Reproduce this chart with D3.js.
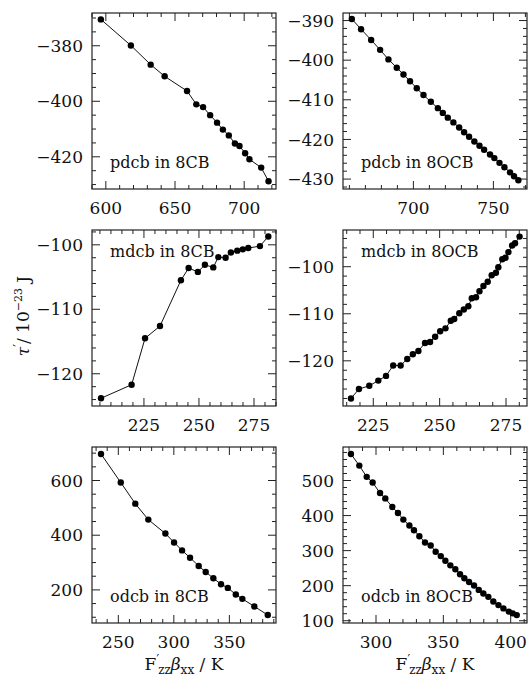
<!DOCTYPE html>
<html>
<head>
<meta charset="utf-8">
<script src="https://cdn.jsdelivr.net/npm/d3@7/dist/d3.min.js"></script>
<style>
  body { margin: 0; background: #fff; }
  svg text { font-family: "DejaVu Serif", serif; fill: #111; }
</style>
</head>
<body>
<div id="chart"></div>
<script>
// ---------------- data ----------------
var panelNames = ["pdcb in 8CB", "pdcb in 8OCB", "mdcb in 8CB", "mdcb in 8OCB", "odcb in 8CB", "odcb in 8OCB"];

var pdcb8cbX = [596.4, 618.1, 632.4, 642.5, 658.7, 665.4, 670.3, 675.4, 680.4, 684.6, 688.9, 693.3, 696.6, 700.7, 703.8, 712.3, 717.6];
var pdcb8cbY = [-370.5, -379.9, -386.8, -391.0, -396.3, -401.1, -402.1, -405.0, -407.7, -410.2, -412.3, -415.2, -416.1, -418.7, -420.9, -423.9, -428.8];

var pdcb8ocbX = [661.5, 667.3, 673.6, 679.2, 684.4, 689.6, 693.8, 697.9, 702.1, 706.3, 710.9, 715.3, 718.4, 721.5, 725.0, 728.6, 731.7, 734.8, 738.1, 741.3, 744.2, 747.9, 750.6, 753.8, 756.9, 760.4, 762.9, 765.6];
var pdcb8ocbY = [-389.6, -392.2, -394.9, -397.4, -399.8, -401.9, -403.6, -405.3, -407.1, -408.8, -410.5, -412.1, -413.3, -414.5, -415.7, -417.0, -418.2, -419.3, -420.5, -421.6, -422.6, -423.8, -424.7, -425.9, -427.0, -428.3, -429.3, -430.3];

var mdcb8cbX = [205.5, 219.4, 225.5, 232.3, 241.8, 245.3, 249.5, 252.7, 256.5, 258.8, 262.1, 264.5, 267.4, 269.9, 272.4, 277.7, 281.5];
var mdcb8cbY = [-123.8, -121.7, -114.5, -112.6, -105.5, -103.6, -104.2, -103.1, -103.5, -101.9, -102.0, -101.2, -100.9, -100.7, -100.5, -100.2, -98.7];

var mdcb8ocbX = [216.6, 219.6, 223.5, 226.9, 229.8, 232.5, 235.3, 237.8, 239.9, 242.0, 244.5, 246.4, 248.3, 250.2, 252.2, 254.2, 255.5, 257.4, 259.1, 260.8, 262.1, 263.7, 265.0, 266.5, 268.1, 269.6, 271.2, 272.1, 273.6, 274.8, 275.9, 277.3, 278.4, 280.1];
var mdcb8ocbY = [-128.0, -126.0, -125.3, -124.2, -123.2, -121.0, -121.0, -119.6, -118.6, -117.9, -116.2, -116.0, -114.9, -113.7, -113.1, -111.5, -111.1, -109.9, -109.1, -108.4, -106.7, -106.5, -105.2, -104.1, -103.2, -101.8, -101.3, -100.1, -98.4, -98.1, -96.9, -95.5, -95.0, -93.6];

var odcb8cbX = [234.4, 252.2, 265.3, 277.0, 292.4, 300.2, 307.4, 314.6, 322.4, 328.7, 335.6, 342.5, 348.6, 355.8, 361.7, 372.5, 384.6];
var odcb8cbY = [697, 592.7, 515.3, 457, 406, 373.5, 344.4, 317.8, 287.3, 265.5, 242.5, 220.7, 207.3, 183.3, 167.3, 139.6, 108];

var odcb8ocbX = [281.4, 287.6, 293.1, 297.5, 303.0, 306.9, 312.1, 316.3, 320.3, 324.8, 328.2, 332.2, 336.4, 340.6, 344.3, 348.1, 351.5, 355.2, 358.9, 362.4, 365.6, 369.1, 372.8, 376.3, 379.7, 383.4, 387.1, 390.9, 394.6, 398.6, 401.5, 404.5];
var odcb8ocbY = [575.7, 542.6, 510.5, 494.4, 464.3, 448.9, 424.5, 407.5, 388.5, 371.5, 358.2, 341.1, 323.3, 314.8, 296.8, 284.4, 271.3, 258.0, 246.7, 232.5, 221.1, 210.6, 200.4, 188.0, 177.7, 168.1, 155.0, 144.5, 135.2, 126.0, 121.0, 116.0];

// axis ranges and tick labels
var xDomains = [[590, 723], [656, 771], [201.4, 285], [213.6, 282.9], [226.3, 392], [275.5, 412.1]];
var yDomains = [[-431.6, -368.2], [-432.5, -388.1], [-125, -97.7], [-129.6, -92.2], [79, 722.5], [93.5, 595.6]];
var xTickLabels = [[600, 650, 700], [700, 750], [225, 250, 275], [225, 250, 275], [250, 300, 350], [300, 350, 400]];
var yTickLabels = [[-380, -400, -420], [-390, -400, -410, -420, -430], [-100, -110, -120], [-100, -110, -120], [200, 400, 600], [100, 200, 300, 400, 500]];
var xMinorStep = [10, 10, 5, 5, 10, 10];
var yMinorStep = [5, 2, 2, 2, 50, 20];

var seriesX = [pdcb8cbX, pdcb8ocbX, mdcb8cbX, mdcb8ocbX, odcb8cbX, odcb8ocbX];
var seriesY = [pdcb8cbY, pdcb8ocbY, mdcb8cbY, mdcb8ocbY, odcb8cbY, odcb8ocbY];

// ---------------- layout ----------------
var width = 532, height = 677;
var colLeft = [92, 343], panelW = 184;
var rowTop = [13, 230, 447], panelH = 176;
// label placement: true = near top, false = near bottom
var labelTop = [false, false, true, true, false, false];

var svg = d3.select("#chart").append("svg")
    .attr("width", width)
    .attr("height", height);

function minorTicks(domain, step) {
  var out = [];
  var start = Math.ceil(domain[0] / step) * step;
  for (var v = start; v <= domain[1] + 1e-9; v += step) out.push(+v.toFixed(6));
  return out;
}

panelNames.forEach(function(name, i) {
  var col = i % 2, row = Math.floor(i / 2);
  var x0 = colLeft[col], y0 = rowTop[row];

  var x = d3.scaleLinear().domain(xDomains[i]).range([0, panelW]);
  var y = d3.scaleLinear().domain(yDomains[i]).range([panelH, 0]);

  var g = svg.append("g").attr("transform", "translate(" + x0 + "," + y0 + ")");

  var xMinor = minorTicks(xDomains[i], xMinorStep[i]);
  var yMinor = minorTicks(yDomains[i], yMinorStep[i]);
  var isMajorX = function(v) { return xTickLabels[i].indexOf(v) >= 0; };
  var isMajorY = function(v) { return yTickLabels[i].indexOf(v) >= 0; };

  // inward ticks on all four sides
  var tickG = g.append("g").attr("stroke", "#222").attr("stroke-width", 1);
  xMinor.forEach(function(v) {
    var len = isMajorX(v) ? 8 : 4;
    tickG.append("line").attr("x1", x(v)).attr("x2", x(v)).attr("y1", panelH).attr("y2", panelH - len);
    tickG.append("line").attr("x1", x(v)).attr("x2", x(v)).attr("y1", 0).attr("y2", len);
  });
  yMinor.forEach(function(v) {
    var len = isMajorY(v) ? 8 : 4;
    tickG.append("line").attr("y1", y(v)).attr("y2", y(v)).attr("x1", 0).attr("x2", len);
    tickG.append("line").attr("y1", y(v)).attr("y2", y(v)).attr("x1", panelW).attr("x2", panelW - len);
  });

  // frame
  g.append("rect")
    .attr("width", panelW).attr("height", panelH)
    .attr("fill", "none").attr("stroke", "#222").attr("stroke-width", 1.2);

  // tick labels
  var fmt = d3.format("d");
  g.selectAll(".xl").data(xTickLabels[i]).enter().append("text")
    .attr("x", function(d) { return x(d); })
    .attr("y", panelH + 25)
    .attr("text-anchor", "middle")
    .style("font-size", "17px")
    .text(fmt);
  g.selectAll(".yl").data(yTickLabels[i]).enter().append("text")
    .attr("x", -9)
    .attr("y", function(d) { return y(d); })
    .attr("dy", "0.36em")
    .attr("text-anchor", "end")
    .style("font-size", "17px")
    .text(fmt);

  // data line and dots
  var pts = seriesX[i].map(function(v, k) { return [v, seriesY[i][k]]; });
  var line = d3.line().x(function(d) { return x(d[0]); }).y(function(d) { return y(d[1]); });
  g.append("path").datum(pts)
    .attr("d", line)
    .attr("fill", "none")
    .attr("stroke", "#111")
    .attr("stroke-width", 1);
  g.selectAll(".dot").data(pts).enter().append("circle")
    .attr("cx", function(d) { return x(d[0]); })
    .attr("cy", function(d) { return y(d[1]); })
    .attr("r", 3.2)
    .attr("fill", "#000");

  // panel label
  g.append("text")
    .attr("x", 18)
    .attr("y", labelTop[i] ? 27 : panelH - 21)
    .style("font-size", "16px")
    .text(name);

  // x axis title below the bottom row
  if (row === 2) {
    var t = g.append("text")
      .attr("x", panelW / 2)
      .attr("y", panelH + 47)
      .attr("text-anchor", "middle")
      .style("font-size", "17px");
    t.append("tspan").text("F");
    t.append("tspan").attr("dy", -6).style("font-size", "12px").text("\u2032");
    t.append("tspan").attr("dy", 10).attr("dx", -1).style("font-size", "12px").text("zz");
    t.append("tspan").attr("dy", -4).style("font-style", "italic").text("\u03B2");
    t.append("tspan").attr("dy", 4).style("font-size", "12px").text("xx");
    t.append("tspan").attr("dy", -4).text(" / K");
  }
});

// y axis title
var yt = svg.append("text")
  .attr("transform", "translate(29,316) rotate(-90)")
  .attr("text-anchor", "middle")
  .style("font-size", "17px");
yt.append("tspan").style("font-style", "italic").text("\u03C4");
yt.append("tspan").attr("dy", -6).style("font-size", "12px").text("\u2032");
yt.append("tspan").attr("dy", 6).text("/ 10");
yt.append("tspan").attr("dy", -7).style("font-size", "11px").text("\u221223");
yt.append("tspan").attr("dy", 7).text(" J");
</script>
</body>
</html>
